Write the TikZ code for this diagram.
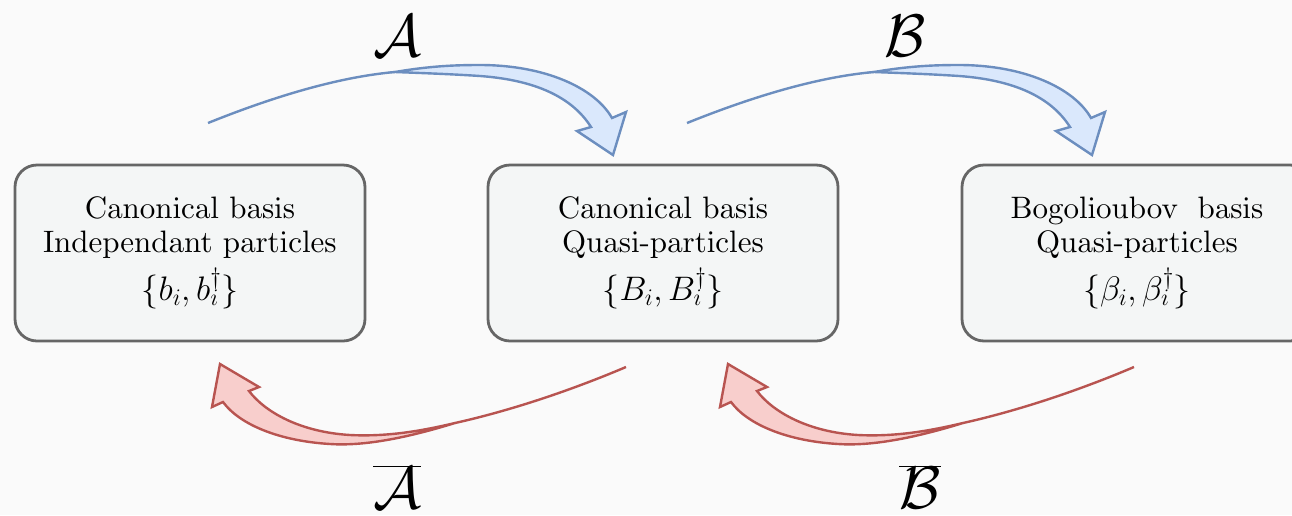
\RequirePackage{fix-cm}
\documentclass[tikz,border=0pt]{standalone}
\definecolor{bg}{RGB}{250,250,250}
\definecolor{boxfill}{RGB}{244,246,246}
\definecolor{boxline}{RGB}{102,102,102}
\definecolor{bluel}{RGB}{108,142,191}
\definecolor{bluef}{RGB}{218,232,252}
\definecolor{redl}{RGB}{184,84,80}
\definecolor{redf}{RGB}{248,206,204}
\font\boxrm=cmr10 at 31pt
\newcommand{\setline}[1]{{\fontsize{34}{37}\selectfont$#1$}}
\begin{document}
\begin{tikzpicture}[x=1pt,y=-1pt,
  basis/.style={draw=boxline, line width=2.8pt, fill=boxfill, rounded corners=22pt,
    minimum width=350pt, minimum height=176pt, inner sep=0pt, align=center,
    font=\fontsize{31}{34}\selectfont\boxrm},
  lbl/.style={font=\fontsize{60}{60}\selectfont, inner sep=0pt},
  fwd/.style={draw=bluel, fill=bluef, line width=2.4pt, line join=miter},
  fwdline/.style={draw=bluel, line width=2.4pt},
  bwd/.style={draw=redl, fill=redf, line width=2.4pt, line join=miter},
  bwdline/.style={draw=redl, line width=2.4pt},
  fwdarrow/.pic={
    \coordinate (-start) at (208,123);
    \coordinate (-merge) at (395,72);
    \coordinate (-tip) at (613,155);
    \path[fwdline] (-start) .. controls (290,90) and (350,76) .. (-merge);
    \path[fwd] (-merge) .. controls (430,66) and (455,65) .. (480,65)
      .. controls (545,65) and (595,88) .. (612,118)
      -- (626,112) -- (-tip) -- (577,131) -- (591,127)
      .. controls (572,97) and (535,80) .. (480,76)
      .. controls (450,74) and (420,73) .. (-merge) -- cycle;
  },
  bwdarrow/.pic={
    \coordinate (-start) at (626,367);
    \coordinate (-merge) at (455,423);
    \coordinate (-tip) at (220,364);
    \path[bwdline] (-start) .. controls (560,395) and (500,413) .. (-merge);
    \path[bwd] (-merge) .. controls (400,440) and (360,446) .. (330,444)
      .. controls (280,441) and (240,425) .. (223,402)
      -- (212,407) -- (-tip) -- (259,387) -- (249,391)
      .. controls (265,412) and (300,432) .. (350,435)
      .. controls (390,437) and (425,430) .. (-merge) -- cycle;
  }
]
\clip (0,0) rectangle (1292,515);
\fill[bg] (0,0) rectangle (1292,515);

\node[basis] (cb) at (190,253) {Canonical basis\\Independant particles\\[8pt]\setline{\{b_i, b_i^\dagger\}}};
\node[basis] (qp) at (663,253) {Canonical basis\\Quasi-particles\\[8pt]\setline{\{B_i, B_i^\dagger\}}};
\node[basis] (bb) at (1137,253) {Bogolioubov\hspace{0.3em} basis\\Quasi-particles\\[8pt]\setline{\{\beta_i, \beta_i^\dagger\}}};

\pic (arA) at (0,0) {fwdarrow};
\pic (arB) at (479,0) {fwdarrow};
\pic (arAb) at (0,0) {bwdarrow};
\pic (arBb) at (508,0) {bwdarrow};

\node[lbl] (la) at (397,36) {$\mathcal{A}$};
\node[lbl] (lb) at (905,36) {$\mathcal{B}$};
\node[lbl] (lab) at (397,487) {$\overline{\mathcal{A}}$};
\node[lbl] (lbb) at (920,487) {$\overline{\mathcal{B}}$};
\end{tikzpicture}
\end{document}
